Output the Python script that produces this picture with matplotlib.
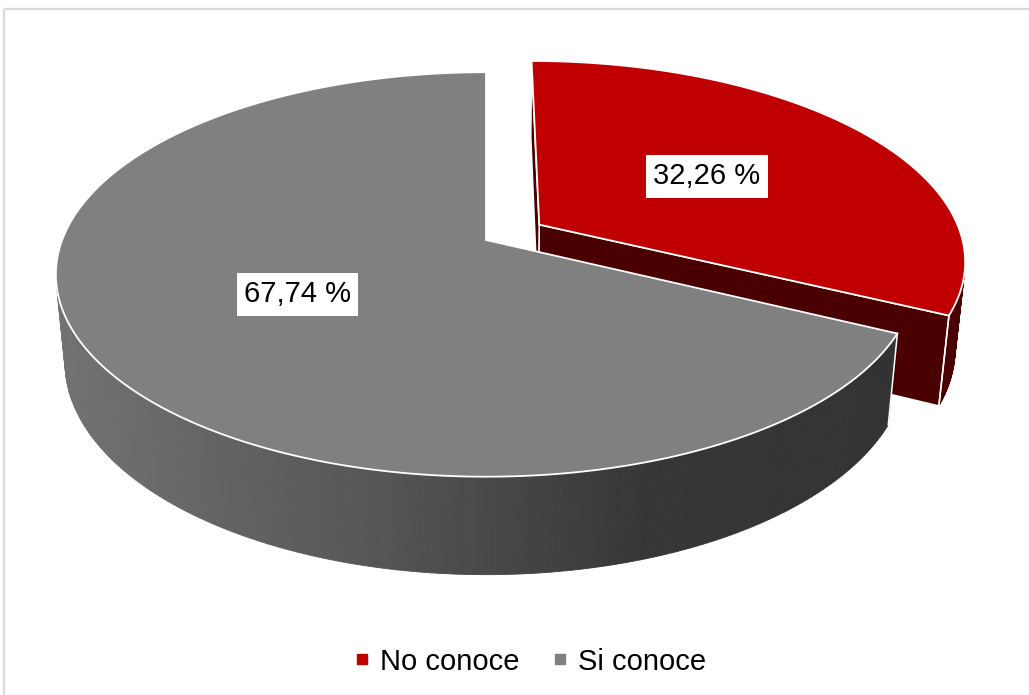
import numpy as np
import matplotlib.pyplot as plt
from matplotlib.patches import Polygon, Rectangle
from matplotlib.collections import PolyCollection
from matplotlib.lines import Line2D

plt.rcParams['font.family'] = ['Liberation Sans', 'DejaVu Sans']

# ── data ────────────────────────────────────────────────────────────────
categories = ["No conoce", "Si conoce"]
shares = [32.26, 67.74]
value_labels = ["32,26 %", "67,74 %"]
top_colors = ["#C00000", "#808080"]
explode = [0.15, 0.0]

# ── 3D view (pixel space of a 1029x695 canvas) ─────────────────────────
CX, CY = 486, 240          # projected centre of the pie
ELEV = np.radians(27.6)
DIST = 5.2
FOCAL = 2204
DEPTH = 0.235
CAM = np.array([0.0, -DIST * np.cos(ELEV), DIST * np.sin(ELEV)])


def project(x, y, z):
    """Perspective projection of pie coordinates to canvas pixels."""
    v = y * np.sin(ELEV) + z * np.cos(ELEV)
    w = -y * np.cos(ELEV) + z * np.sin(ELEV)
    s = FOCAL / (DIST - w)
    return CX + x * s, CY - v * s


def wall_gray(xpix):
    level = np.interp(xpix, [55, 380, 650, 900], [0x72, 0x55, 0x36, 0x33]) / 255
    return (level, level, level)


fig = plt.figure(figsize=(10.29, 6.95), dpi=100)
ax = fig.add_axes([0, 0, 1, 1])
ax.set_xlim(0, 1029)
ax.set_ylim(695, 0)
ax.axis("off")

ax.add_patch(Rectangle((3.5, 9), 1100, 800, fill=False, ec="#d9d9d9", lw=1.6))

# slice angle ranges, clockwise from 12 o'clock
spans = []
start = 90.0
for val in shares:
    sweep = 360.0 * val / sum(shares)
    spans.append((np.radians(start - sweep), np.radians(start)))
    start -= sweep

slice_geo = []
for i, (t0, t1) in enumerate(spans):
    mid = (t0 + t1) / 2
    ox, oy = explode[i] * np.cos(mid), explode[i] * np.sin(mid)
    slice_geo.append((t0, t1, mid, ox, oy))

# red (exploded) first, grey in front of it
for i in [0, 1]:
    t0, t1, mid, ox, oy = slice_geo[i]
    ts = np.linspace(t0, t1, 300)
    # outer wall, visible strips only
    quads, cols, idx = [], [], []
    for k, (a, b) in enumerate(zip(ts[:-1], ts[1:])):
        m = (a + b) / 2
        n = np.array([np.cos(m), np.sin(m), 0])
        p = np.array([ox + np.cos(m), oy + np.sin(m), 0])
        if n @ (CAM - p) <= 0:
            continue
        xa, ya = project(ox + np.cos(a), oy + np.sin(a), 0)
        xb, yb = project(ox + np.cos(b), oy + np.sin(b), 0)
        xc, yc = project(ox + np.cos(b), oy + np.sin(b), -DEPTH)
        xd, yd = project(ox + np.cos(a), oy + np.sin(a), -DEPTH)
        quads.append([(xa, ya), (xb, yb), (xc, yc), (xd, yd)])
        idx.append(k)
        if i == 0:
            cols.append("#4a0000")
        else:
            cols.append(wall_gray((xa + xb) / 2))
    ax.add_collection(PolyCollection(quads, facecolors=cols, edgecolors=cols, lw=0.6))
    # white vertical edges only where the wall ends at a slice boundary
    if quads and idx[0] == 0:
        q = quads[0]
        ax.plot([q[0][0], q[3][0]], [q[0][1], q[3][1]], color="white", lw=1.1)
    if quads and idx[-1] == len(ts) - 2:
        q = quads[-1]
        ax.plot([q[1][0], q[2][0]], [q[1][1], q[2][1]], color="white", lw=1.1)

    # radial cut faces
    for t, sign in ((t0, 1), (t1, -1)):
        n = np.array([sign * np.sin(t), -sign * np.cos(t), 0])
        if n @ (CAM - np.array([ox, oy, 0])) <= 1e-6:
            continue
        pts = [project(ox, oy, 0), project(ox + np.cos(t), oy + np.sin(t), 0),
               project(ox + np.cos(t), oy + np.sin(t), -DEPTH), project(ox, oy, -DEPTH)]
        ax.add_patch(Polygon(pts, closed=True, fc="#4a0000", ec="white", lw=1.1))

    # top face
    top = [project(ox, oy, 0)] + [project(ox + np.cos(t), oy + np.sin(t), 0) for t in ts]
    ax.add_patch(Polygon(top, closed=True, fc=top_colors[i], ec="white", lw=1.3))

    # value label
    lx, ly = project(ox + 0.5 * np.cos(mid), oy + 0.5 * np.sin(mid), 0)
    ax.text(lx, ly, value_labels[i], ha="center", va="center", fontsize=21,
            bbox=dict(boxstyle="square,pad=0.25", fc="white", ec="none"))

handles = [Line2D([], [], marker="s", linestyle="", markersize=7.5, color=c) for c in top_colors]
fig.legend(handles, categories, loc="center", bbox_to_anchor=(0.5146, 0.048), ncol=2,
           frameon=False, fontsize=21, handlelength=0.6, handletextpad=0.3, columnspacing=1.1)

fig.savefig("out.png", dpi=100)
